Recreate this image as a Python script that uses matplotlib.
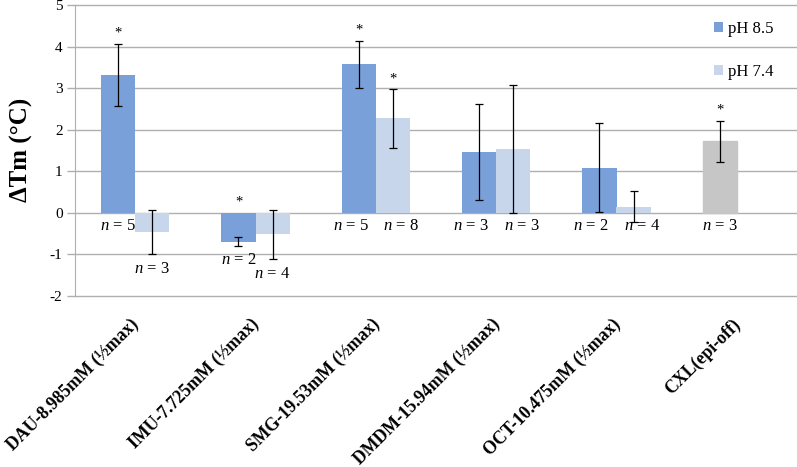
import numpy as np
import matplotlib
matplotlib.use("Agg")
import matplotlib.pyplot as plt
from matplotlib.transforms import ScaledTranslation

# ── Data ──────────────────────────────────────────────────────
categories = ["DAU-8.985mM (½max)", "IMU-7.725mM (½max)", "SMG-19.53mM (½max)",
              "DMDM-15.94mM (½max)", "OCT-10.475mM (½max)", "CXL(epi-off)"]
ph85     = [3.31, -0.69, 3.57, 1.46, 1.09, 1.72]
ph85_err = [0.75, 0.10, 0.57, 1.15, 1.06, 0.49]
ph85_n   = [5, 2, 5, 3, 2, 3]
ph85_sig = [True, True, True, False, False, True]

ph74     = [-0.47, -0.52, 2.27, 1.53, 0.15, np.nan]
ph74_err = [0.53, 0.60, 0.70, 1.54, 0.38, np.nan]
ph74_n   = [3, 4, 8, 3, 4, None]
ph74_sig = [False, False, True, False, False, False]

# ── Palette ───────────────────────────────────────────────────
BLUE  = "#7aa0d9"
LIGHT = "#c8d6ec"
GRAY  = "#c6c6c6"
GRID  = "#afafaf"
SERIF = "Liberation Serif"

plt.rcParams["font.family"] = SERIF
plt.rcParams["axes.unicode_minus"] = False
plt.rcParams["mathtext.fontset"] = "custom"
plt.rcParams["mathtext.it"] = "Liberation Serif:italic"
plt.rcParams["mathtext.rm"] = "Liberation Serif"

W, H = 797, 467
fig = plt.figure(figsize=(W / 100, H / 100), dpi=100)
ax = fig.add_axes([75 / W, 1 - 296 / H, 722 / W, 291 / H])

x = np.arange(len(categories))
bw = 0.283

b1 = ax.bar(x - bw / 2, ph85, bw, color=BLUE, label="pH 8.5", zorder=2)
b1[-1].set_color(GRAY)   # CXL control bar drawn in gray
b2 = ax.bar(x + bw / 2, ph74, bw, color=LIGHT, label="pH 7.4", zorder=2)

err_kw = dict(fmt="none", ecolor="black", elinewidth=0.9, capsize=3, capthick=0.9, zorder=3)
ax.errorbar(x - bw / 2, ph85, yerr=ph85_err, **err_kw)
ax.errorbar(x + bw / 2, ph74, yerr=ph74_err, **err_kw)

# ── Significance stars and n labels ──────────────────────────
def annotate(xs, vals, errs, ns, sigs, others, side):
    for xi, v, e, n, s, o in zip(xs, vals, errs, ns, sigs, others):
        if n is None:
            continue
        if s:
            ytop = max(v + e, 0)
            ax.text(xi, ytop + 0.1, "*", ha="center", va="bottom", fontsize=10.5, zorder=4)
        # spread the two labels apart when both sit just under the zero line
        dx = 0.07 * side if (v >= 0 and o >= 0) else 0
        ylab = -0.12 if v >= 0 else v - e - 0.15
        ax.text(xi + dx, ylab, f"$n$ = {n}", ha="center", va="top", fontsize=12, zorder=4)

annotate(x - bw / 2, ph85, ph85_err, ph85_n, ph85_sig, ph74, -1)
annotate(x + bw / 2, ph74, ph74_err, ph74_n, ph74_sig, ph85, 1)

# ── Axes styling ─────────────────────────────────────────────
ax.set_xlim(-0.5, len(categories) - 0.5)
ax.set_ylim(-2, 5)
ax.set_yticks(range(-2, 6))
ax.yaxis.grid(True, color=GRID, linewidth=1.0, zorder=0)
for gl in ax.get_ygridlines():
    gl.set_clip_on(False)
ax.set_axisbelow(True)
for sp in ["top", "right", "bottom"]:
    ax.spines[sp].set_visible(False)
ax.spines["left"].set_color(GRID)
ax.tick_params(axis="y", length=6, width=1, color=GRID, pad=3, labelsize=11)
ax.tick_params(axis="x", length=0, pad=14)
ax.set_xticks(x)
ax.set_xticklabels(categories, rotation=45, ha="right", va="top",
                   rotation_mode="anchor", fontsize=12.8, fontweight="bold")
shift = ScaledTranslation(-5 / 100, 0, fig.dpi_scale_trans)
for lbl in ax.get_xticklabels():
    lbl.set_transform(lbl.get_transform() + shift)

fig.text(21 / W, 0.5 * ((1 - 296 / H) + (1 - 4 / H)), "ΔTm (°C)",
         rotation=90, ha="center", va="center", fontsize=18, fontweight="bold")

ax.legend(handles=[b1, b2], loc="upper left", bbox_to_anchor=(0.885, 0.945),
          frameon=False, fontsize=12, labelspacing=1.6, handlelength=0.55,
          handleheight=0.55, handletextpad=0.3, borderpad=0, borderaxespad=0)

fig.savefig("out.png", dpi=100)
plt.close(fig)
